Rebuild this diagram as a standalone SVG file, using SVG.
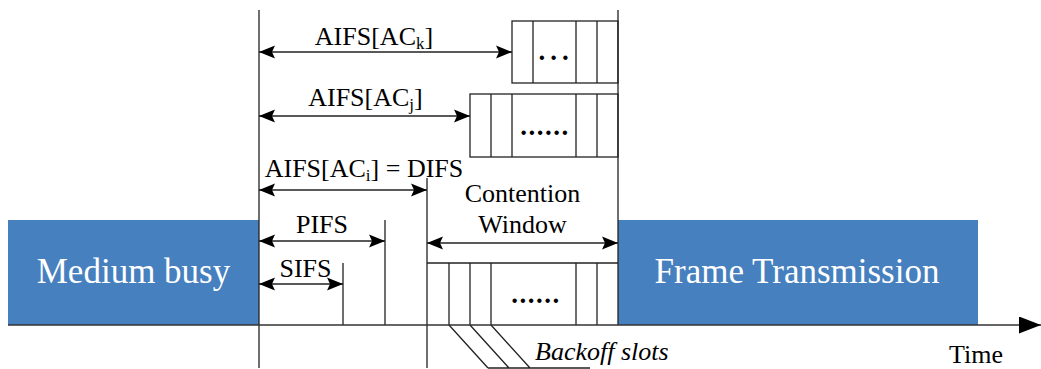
<svg xmlns="http://www.w3.org/2000/svg" width="1041" height="369" viewBox="0 0 1041 369">
  <style>
    .ln { stroke: #222222; stroke-width: 1.3; fill: none; }
    .box { stroke: #222222; stroke-width: 1.3; fill: #ffffff; }
    .blk { fill: #4680bf; }
    .t { font-family: "Liberation Serif", "Times New Roman", serif; font-size: 26px; fill: #000; }
    .big { font-family: "Liberation Serif", "Times New Roman", serif; font-size: 35px; fill: #ffffff; }
    .dots { font-family: "Liberation Serif", "Times New Roman", serif; font-size: 27px; font-weight: bold; fill: #000; }
    .arr { stroke: #222222; stroke-width: 1.3; fill: none; marker-start: url(#head); marker-end: url(#head); }
  </style>
  <defs>
    <marker id="head" viewBox="0 0 16 14" refX="16" refY="7" markerWidth="16" markerHeight="14" markerUnits="userSpaceOnUse" orient="auto-start-reverse">
      <path d="M0,0.5 L16,7 L0,13.5 L3,7 Z" fill="#000"/>
    </marker>
    <marker id="axisHead" viewBox="0 0 22 17" refX="22" refY="8.5" markerWidth="22" markerHeight="17" markerUnits="userSpaceOnUse" orient="auto">
      <path d="M0,0 L22,8.5 L0,17 Z" fill="#000"/>
    </marker>
  </defs>

  <!-- busy and transmission blocks -->
  <g id="medium-busy">
    <rect class="blk" x="8" y="220" width="251" height="105"/>
    <text class="big" x="133.5" y="283" text-anchor="middle">Medium busy</text>
  </g>
  <g id="frame-transmission">
    <rect class="blk" x="618" y="220" width="360" height="105"/>
    <text class="big" x="797" y="283" text-anchor="middle">Frame Transmission</text>
  </g>

  <!-- slot boxes -->
  <g id="slots-ack">
    <rect class="box" x="512" y="21" width="106" height="62"/>
    <path class="ln" d="M533,21 V83 M576,21 V83 M597,21 V83"/>
    <text class="dots" x="556" y="60" text-anchor="middle" letter-spacing="5">...</text>
  </g>
  <g id="slots-acj">
    <rect class="box" x="470" y="94" width="148" height="63"/>
    <path class="ln" d="M491,94 V157 M512,94 V157 M576,94 V157 M597,94 V157"/>
    <text class="dots" x="545" y="135" text-anchor="middle" letter-spacing="1.5">......</text>
  </g>
  <g id="contention-slots">
    <path class="ln" d="M427,263 H618"/>
    <path class="ln" d="M449,263 V325 M470,263 V325 M491,263 V325 M576,263 V325 M597,263 V325"/>
    <text class="dots" x="536" y="303" text-anchor="middle" letter-spacing="1.5">......</text>
  </g>

  <!-- boundaries and time axis -->
  <g id="axis">
    <path class="ln" d="M259,10 V368 M618,10 V325 M427,178 V368 M385,220 V325 M343,263 V325"/>
    <path d="M8,325 H1041" stroke="#333333" stroke-width="1.3" fill="none" marker-end="url(#axisHead)"/>
    <text class="t" x="949" y="363" font-size="28">Time</text>
  </g>

  <!-- backoff slot callout -->
  <g id="backoff-label">
    <path class="ln" d="M449,325 L488,368 M470,325 L509,368 M491,325 L530,368 M488,368 H590"/>
    <text class="t" x="535" y="360" font-style="italic">Backoff slots</text>
  </g>

  <!-- interval arrows -->
  <g id="connectors">
    <line class="arr" x1="259" y1="52" x2="512" y2="52"/>
    <line class="arr" x1="259" y1="116" x2="470" y2="116"/>
    <line class="arr" x1="259" y1="190" x2="427" y2="190"/>
    <line class="arr" x1="259" y1="241" x2="385" y2="241"/>
    <line class="arr" x1="259" y1="284" x2="343" y2="284"/>
    <line class="arr" x1="427" y1="243" x2="618" y2="243"/>
  </g>

  <!-- interval labels -->
  <g id="labels">
    <text class="t" x="374" y="45" text-anchor="middle">AIFS[AC<tspan font-size="17" dy="4">k</tspan><tspan dy="-4">]</tspan></text>
    <text class="t" x="365.5" y="106" text-anchor="middle">AIFS[AC<tspan font-size="17" dy="4">j</tspan><tspan dy="-4">]</tspan></text>
    <text class="t" x="364" y="177" text-anchor="middle">AIFS[AC<tspan font-size="17" dy="4">i</tspan><tspan dy="-4">] = DIFS</tspan></text>
    <text class="t" x="322" y="233" text-anchor="middle">PIFS</text>
    <text class="t" x="305.5" y="277" text-anchor="middle">SIFS</text>
    <text class="t" x="522.5" y="202" text-anchor="middle">Contention</text>
    <text class="t" x="522.5" y="233" text-anchor="middle">Window</text>
  </g>
</svg>
